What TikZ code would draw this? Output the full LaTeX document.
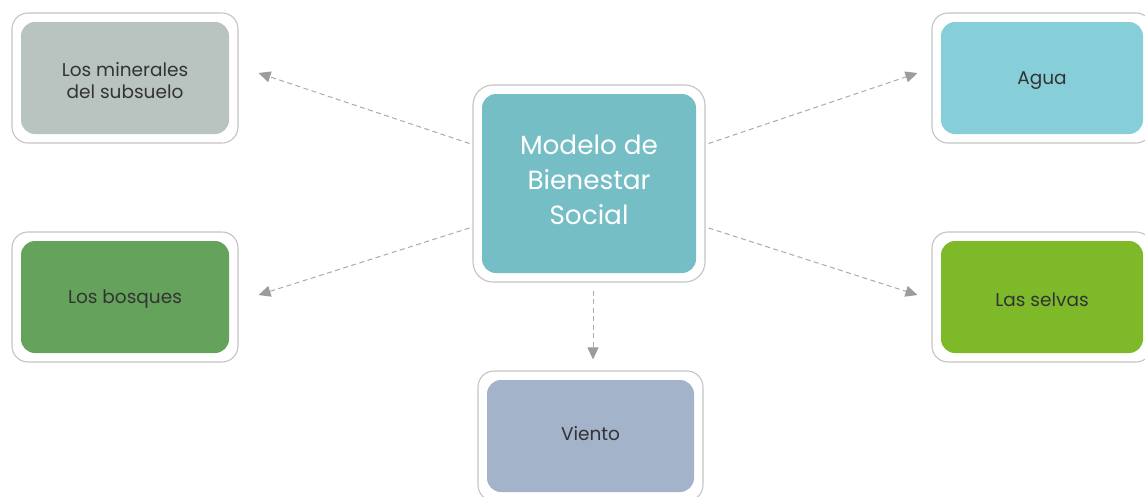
\documentclass[tikz,border=0pt]{standalone}
\usepackage{fontspec}
\setmainfont{Poppins}
\usetikzlibrary{arrows.meta}
\definecolor{bordergray}{HTML}{C4C4C4}
\definecolor{arrowgray}{HTML}{AAAAAA}
\definecolor{tipgray}{HTML}{9C9C9C}
\definecolor{txtgray}{HTML}{333333}
\definecolor{cmin}{HTML}{B9C4C0}
\definecolor{ccen}{HTML}{76BEC6}
\definecolor{cagua}{HTML}{87CFD8}
\definecolor{cbos}{HTML}{65A25B}
\definecolor{csel}{HTML}{7DB928}
\definecolor{cvie}{HTML}{A3B3CA}
\tikzset{
  box/.style={draw=bordergray, line width=1.1pt, fill=white, rounded corners=16pt,
    minimum width=226pt, minimum height=130pt, inner sep=0pt,
    path picture={\fill[#1, rounded corners=14pt]
      ([shift={(9pt,-9pt)}]path picture bounding box.north west) rectangle
      ([shift={(-9pt,9pt)}]path picture bounding box.south east);}},
  boxtext/.style={align=center, text=txtgray, inner sep=0pt,
    font=\fontsize{18.5}{22.5}\selectfont, yshift=-2.5pt},
  centext/.style={align=center, text=white, inner sep=0pt,
    font=\fontsize{26.3}{35}\selectfont, yshift=3.5pt},
  conn/.style={draw=arrowgray, line width=1pt, dash pattern=on 5pt off 3.5pt,
    -{Triangle[length=12pt,width=11pt,fill=tipgray,color=tipgray,sep=0pt]}},
}
\begin{document}
\begin{tikzpicture}[x=1pt,y=-1pt]
\useasboundingbox (0,0) rectangle (1145,496);
\node[box=ccen, minimum width=232pt, minimum height=197pt, rounded corners=20pt,
      label={[centext]center:Modelo de\\Bienestar\\Social}] (c) at (589,183.5) {};
\node[box=cmin, label={[boxtext]center:Los minerales\\del subsuelo}] (m) at (125,78) {};
\node[box=cbos, label={[boxtext]center:Los bosques}] (b) at (125,297) {};
\node[box=cagua, minimum width=220pt, label={[boxtext]center:Agua}] (a) at (1042,78) {};
\node[box=csel, minimum width=220pt, label={[boxtext]center:Las selvas}] (s) at (1042,297) {};
\node[box=cvie, minimum width=225pt, label={[boxtext, yshift=5pt]center:Viento}] (v) at (590.5,436) {};
\draw[conn] ([xshift=-3pt,yshift=40pt]c.west) -- ([xshift=20pt,yshift=5pt]m.east);
\draw[conn] ([xshift=-3pt,yshift=-44.5pt]c.west) -- ([xshift=20pt,yshift=2pt]b.east);
\draw[conn] ([xshift=3pt,yshift=40pt]c.east) -- ([xshift=-14pt,yshift=5pt]a.west);
\draw[conn] ([xshift=3pt,yshift=-44.5pt]c.east) -- ([xshift=-14pt,yshift=2pt]s.west);
\draw[conn] ([xshift=4pt,yshift=-8pt]c.south) -- ([xshift=2.5pt,yshift=11pt]v.north);
\end{tikzpicture}
\end{document}
